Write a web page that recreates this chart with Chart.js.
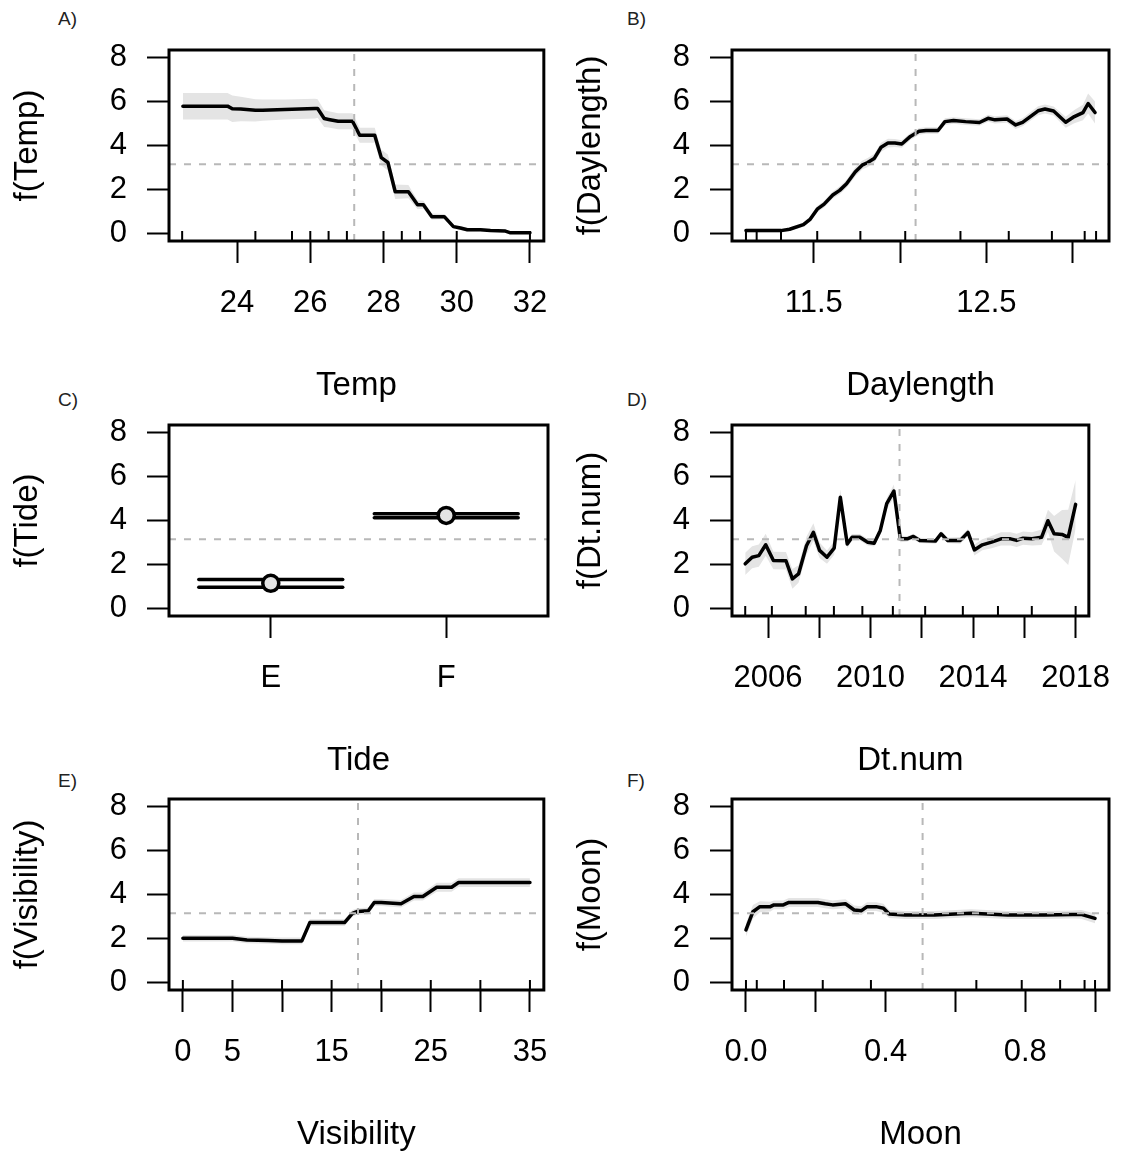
<!DOCTYPE html>
<html><head><meta charset="utf-8">
<script src="https://cdn.jsdelivr.net/npm/chart.js@4.4.1/dist/chart.umd.min.js"></script>
<style>
html,body{margin:0;padding:0;background:#fff;overflow:hidden;width:1141px;height:1151px;position:relative}
canvas.panel{position:absolute}
.lab{position:absolute;font-family:"Liberation Sans",Arial,sans-serif;font-size:19px;color:#222;line-height:1}
</style></head><body>
<div class="lab" style="left:58px;top:9px">A)</div>
<div class="lab" style="left:627px;top:9px">B)</div>
<div class="lab" style="left:58px;top:390px">C)</div>
<div class="lab" style="left:627px;top:390px">D)</div>
<div class="lab" style="left:58px;top:771px">E)</div>
<div class="lab" style="left:627px;top:771px">F)</div>
<canvas id="pA" class="panel" width="570" height="410" style="left:0;top:0"></canvas>
<canvas id="pB" class="panel" width="570" height="410" style="left:563px;top:0"></canvas>
<canvas id="pC" class="panel" width="570" height="410" style="left:0;top:375px"></canvas>
<canvas id="pD" class="panel" width="570" height="410" style="left:563px;top:375px"></canvas>
<canvas id="pE" class="panel" width="570" height="410" style="left:0;top:749px"></canvas>
<canvas id="pF" class="panel" width="570" height="410" style="left:563px;top:749px"></canvas>
<script>
// ---------- DATA ----------
const yTicks = [0, 2, 4, 6, 8];
const refLevel = 3.15;

// A) Temp
const tempX   = [22.52,23.74,23.87,24.1,24.5,24.7,25.3,26.13,26.2,26.38,26.5,26.76,27.15,27.2,27.35,27.76,27.94,28.12,28.32,28.68,28.93,29.09,29.32,29.66,29.91,30.1,30.29,30.65,30.92,31.33,31.47,32.0];
const tempFit = [5.78,5.78,5.66,5.65,5.59,5.6,5.63,5.67,5.67,5.22,5.18,5.1,5.1,4.95,4.46,4.46,3.45,3.23,1.91,1.91,1.32,1.32,0.78,0.78,0.33,0.27,0.19,0.19,0.15,0.13,0.05,0.05];
const tempSe  = [0.6,0.6,0.6,0.55,0.5,0.48,0.45,0.45,0.42,0.38,0.37,0.36,0.36,0.35,0.34,0.34,0.36,0.36,0.33,0.3,0.2,0.18,0.14,0.12,0.1,0.09,0.08,0.07,0.06,0.05,0.04,0.04];
const tempRug = [22.5,24.5,25.5,26,26.5,27,28,28.5,29,30,32];
const tempTicks = [24,26,28,30,32];
const tempTickLabels = ['24','26','28','30','32'];
const tempVRef = 27.2;

// B) Daylength
const dayX   = [11.107,11.31,11.36,11.44,11.48,11.52,11.56,11.61,11.65,11.69,11.74,11.78,11.81,11.85,11.89,11.93,11.97,12.01,12.06,12.11,12.15,12.22,12.26,12.31,12.38,12.46,12.51,12.55,12.62,12.67,12.71,12.8,12.84,12.89,12.96,13.01,13.06,13.09,13.13];
const dayFit = [0.15,0.15,0.21,0.42,0.67,1.12,1.35,1.76,1.97,2.27,2.8,3.11,3.22,3.41,3.92,4.11,4.11,4.07,4.41,4.64,4.68,4.68,5.08,5.13,5.08,5.04,5.23,5.16,5.2,4.93,5.05,5.57,5.65,5.56,5.05,5.31,5.49,5.9,5.49];
const daySe  = [0.08,0.08,0.08,0.1,0.12,0.14,0.15,0.16,0.17,0.18,0.2,0.2,0.2,0.2,0.2,0.2,0.18,0.17,0.16,0.15,0.15,0.15,0.15,0.15,0.15,0.15,0.16,0.16,0.17,0.18,0.18,0.2,0.2,0.2,0.25,0.3,0.35,0.45,0.5];
const dayRug = [11.107,11.169,11.31,11.52,11.77,12.03,12.35,12.63,12.88,13.07,13.136];
const dayTicks = [11.5,12,12.5,13];
const dayTickLabels = ['11.5','','12.5',''];
const dayVRef = 12.09;

// C) Tide
const tideLevels = ['E','F'];
const tidePos = [1, 2];
const tideFit = [1.16, 4.23];
const tideUpper = [1.33, 4.30];
const tideLower = [0.98, 4.12];

// D) Dt.num
const dtX   = [2005.11,2005.38,2005.64,2005.91,2006.21,2006.7,2006.95,2007.19,2007.5,2007.77,2008.01,2008.3,2008.58,2008.82,2009.09,2009.28,2009.58,2009.89,2010.14,2010.38,2010.63,2010.91,2011.16,2011.43,2011.67,2011.92,2012.53,2012.75,2013.0,2013.5,2013.8,2014.05,2014.36,2014.72,2015.09,2015.46,2015.7,2015.95,2016.3,2016.67,2016.92,2017.16,2017.47,2017.71,2018.0];
const dtFit = [2.04,2.34,2.41,2.9,2.19,2.18,1.36,1.58,2.86,3.47,2.65,2.34,2.75,5.05,2.94,3.24,3.24,3.02,2.97,3.55,4.76,5.33,3.17,3.17,3.28,3.1,3.07,3.4,3.1,3.1,3.46,2.67,2.9,3.02,3.17,3.17,3.1,3.2,3.17,3.24,3.99,3.4,3.37,3.24,4.73];
const dtSe  = [0.5,0.5,0.5,0.5,0.4,0.4,0.45,0.4,0.4,0.4,0.35,0.3,0.3,0.35,0.2,0.15,0.15,0.15,0.15,0.2,0.25,0.3,0.15,0.12,0.12,0.12,0.12,0.12,0.12,0.15,0.15,0.25,0.25,0.28,0.3,0.3,0.3,0.3,0.3,0.35,0.5,0.8,1.1,1.25,1.1];
const dtRug = [2005.11,2006.15,2007.47,2008.57,2009.68,2010.87,2012.13,2013.6,2014.97,2016.29,2018.0];
const dtTicks = [2006,2008,2010,2012,2014,2016,2018];
const dtTickLabels = ['2006','','2010','','2014','','2018'];
const dtVRef = 2011.13;

// E) Visibility
const visX   = [0,5,6.46,8.6,10,12,12.8,16.3,17.1,17.6,18.7,19.3,20,22,23.3,24.2,25.6,27.1,27.8,35];
const visFit = [2.02,2.02,1.94,1.92,1.9,1.9,2.73,2.73,3.15,3.23,3.26,3.64,3.64,3.58,3.91,3.91,4.33,4.33,4.54,4.54];
const visSe  = [0.15,0.15,0.15,0.15,0.15,0.15,0.15,0.15,0.15,0.15,0.15,0.16,0.16,0.17,0.18,0.18,0.2,0.2,0.2,0.2];
const visRug = [0,5,10,15,20,25,30,35];
const visTicks = [0,5,10,15,20,25,30,35];
const visTickLabels = ['0','5','','15','','25','','35'];
const visVRef = 17.66;

// F) Moon
const moonX   = [0,0.02,0.04,0.07,0.08,0.107,0.123,0.206,0.227,0.248,0.285,0.31,0.331,0.347,0.373,0.394,0.41,0.456,0.54,0.6,0.645,0.75,0.854,0.935,0.96,1.0];
const moonFit = [2.4,3.22,3.45,3.45,3.53,3.53,3.64,3.64,3.58,3.53,3.58,3.3,3.27,3.45,3.45,3.38,3.12,3.07,3.07,3.12,3.15,3.07,3.07,3.1,3.1,2.92];
const moonSe  = [0.3,0.3,0.25,0.22,0.2,0.2,0.2,0.2,0.2,0.2,0.2,0.2,0.2,0.2,0.2,0.2,0.18,0.18,0.18,0.18,0.18,0.18,0.18,0.18,0.2,0.22];
const moonRug = [0,0.031,0.109,0.22,0.358,0.66,0.79,0.9,0.97,1.0];
const moonTicks = [0,0.2,0.4,0.6,0.8,1.0];
const moonTickLabels = ['0.0','','0.4','','0.8',''];
const moonVRef = 0.506;

// ---------- STYLE / BUILD ----------
const FAM = '"Liberation Sans", Arial, sans-serif';
const BAND = '#e4e4e4';
const REF = '#b8b8b8';
const Y_MIN = -0.32, Y_MAX = 8.32;

function padRange(lo, hi) { const d = (hi - lo) * 0.04; return [lo - d, hi + d]; }

const framePlugin = {
  id: 'frame',
  afterDatasetsDraw(chart, args, opts) {
    const {ctx, chartArea: a} = chart;
    const x = chart.scales.x;
    ctx.save();
    ctx.strokeStyle = '#000';
    ctx.lineWidth = 2;
    (opts.rug || []).forEach(v => {
      const px = x.getPixelForValue(v);
      ctx.beginPath(); ctx.moveTo(px, a.bottom); ctx.lineTo(px, a.bottom - 10); ctx.stroke();
    });
    ctx.lineWidth = 3;
    ctx.strokeRect(a.left, a.top, a.right - a.left, a.bottom - a.top);
    ctx.restore();
  }
};

function baseOptions(o) {
  return {
    responsive: false, animation: false, events: [],
    layout: { padding: { left: 0, top: 50, right: o.right, bottom: 0 } },
    plugins: { legend: { display: false }, tooltip: { enabled: false }, frame: { rug: o.rug || [] } },
    scales: {
      x: {
        type: 'linear', min: o.xmin, max: o.xmax, offset: false,
        afterBuildTicks: s => { s.ticks = o.ticks.map(v => ({ value: v })); },
        afterFit: s => { s.height = 169; },
        ticks: { autoSkip: false, maxRotation: 0, minRotation: 0, padding: 22, color: '#000',
                 font: { family: FAM, size: 31 }, callback: (v, i) => o.tickLabels[i] },
        grid: { drawOnChartArea: false, drawTicks: true, tickLength: 22, tickWidth: 2, tickColor: '#000' },
        border: { display: false },
        title: { display: true, text: o.xTitle, color: '#000', font: { family: FAM, size: 33 }, padding: { top: 0, bottom: 4 } }
      },
      y: {
        type: 'linear', min: Y_MIN, max: Y_MAX,
        afterBuildTicks: s => { s.ticks = yTicks.map(v => ({ value: v })); },
        afterFit: s => { s.width = 169; },
        ticks: { padding: 20, color: '#000', font: { family: FAM, size: 31 }, callback: v => String(v) },
        grid: { drawOnChartArea: false, drawTicks: true, tickLength: 22, tickWidth: 2, tickColor: '#000' },
        border: { display: false },
        title: { display: true, text: o.yTitle, color: '#000', font: { family: FAM, size: 33 }, padding: { top: 8, bottom: 0 } }
      }
    }
  };
}

function refSets(xmin, xmax, vref) {
  const common = { borderColor: REF, borderWidth: 2, borderDash: [7, 8], pointRadius: 0, fill: false, order: 1, borderCapStyle: 'butt' };
  const sets = [Object.assign({ data: [{ x: xmin, y: refLevel }, { x: xmax, y: refLevel }] }, common)];
  if (vref !== undefined) sets.push(Object.assign({ data: [{ x: vref, y: Y_MIN }, { x: vref, y: Y_MAX }] }, common));
  return sets;
}

function smoothPanel(id, xs, fit, se, rug, ticks, tickLabels, vref, xTitle, yTitle, right) {
  const [xmin, xmax] = padRange(xs[0], xs[xs.length - 1]);
  const upper = xs.map((x, i) => ({ x, y: fit[i] + se[i] }));
  const lower = xs.map((x, i) => ({ x, y: fit[i] - se[i] }));
  const line = xs.map((x, i) => ({ x, y: fit[i] }));
  new Chart(document.getElementById(id), {
    type: 'line',
    data: { datasets: [
      { data: upper, borderWidth: 0, pointRadius: 0, fill: '+1', backgroundColor: BAND, borderColor: 'rgba(0,0,0,0)', order: 5 },
      { data: lower, borderWidth: 0, pointRadius: 0, fill: false, borderColor: 'rgba(0,0,0,0)', order: 5 },
      { data: line, borderColor: '#000', borderWidth: 3.5, pointRadius: 0, fill: false, order: 3, borderJoinStyle: 'round', borderCapStyle: 'round' },
      ...refSets(xmin, xmax, vref)
    ] },
    options: baseOptions({ xmin, xmax, ticks, tickLabels, rug, xTitle, yTitle, right }),
    plugins: [framePlugin]
  });
}

smoothPanel('pA', tempX, tempFit, tempSe, tempRug, tempTicks, tempTickLabels, tempVRef, 'Temp', 'f(Temp)', 22);
smoothPanel('pB', dayX, dayFit, daySe, dayRug, dayTicks, dayTickLabels, dayVRef, 'Daylength', 'f(Daylength)', 24);
smoothPanel('pD', dtX, dtFit, dtSe, dtRug, dtTicks, dtTickLabels, dtVRef, 'Dt.num', 'f(Dt.num)', 24);
smoothPanel('pE', visX, visFit, visSe, visRug, visTicks, visTickLabels, visVRef, 'Visibility', 'f(Visibility)', 22);
smoothPanel('pF', moonX, moonFit, moonSe, moonRug, moonTicks, moonTickLabels, moonVRef, 'Moon', 'f(Moon)', 24);

// C) factor panel
(function () {
  const xmin = 0.42, xmax = 2.58, half = 0.41;
  const segs = [];
  tidePos.forEach((p, i) => {
    [tideUpper[i], tideLower[i]].forEach(v => segs.push({
      data: [{ x: p - half, y: v }, { x: p + half, y: v }],
      borderColor: '#000', borderWidth: 3.5, pointRadius: 0, fill: false, order: 3, borderCapStyle: 'round'
    }));
  });
  new Chart(document.getElementById('pC'), {
    type: 'line',
    data: { datasets: [
      { data: tidePos.map((p, i) => ({ x: p, y: tideFit[i] })), showLine: false, pointRadius: 8, pointBackgroundColor: '#e3e3e3',
        pointBorderColor: '#000', pointBorderWidth: 3.5, order: 0 },
      ...segs,
      ...refSets(xmin, xmax)
    ] },
    options: baseOptions({ xmin, xmax, ticks: tidePos, tickLabels: tideLevels, rug: [], xTitle: 'Tide', yTitle: 'f(Tide)', right: 22 }),
    plugins: [framePlugin]
  });
})();
</script>
</body></html>
